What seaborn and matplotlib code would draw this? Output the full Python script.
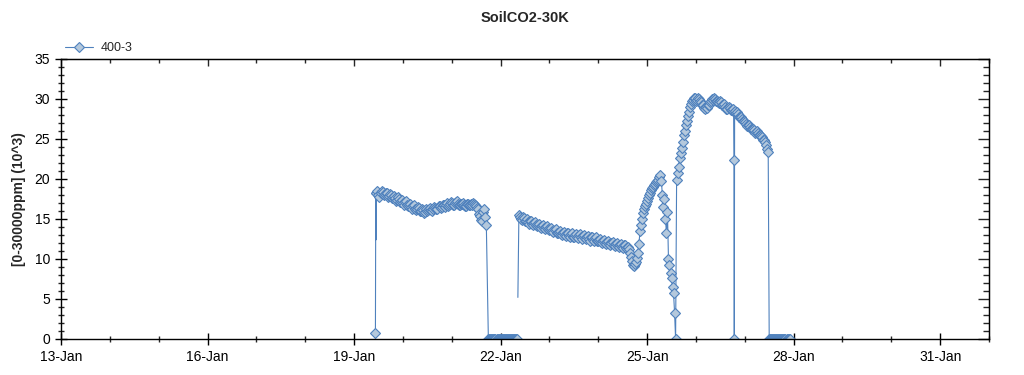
import seaborn as sns
import matplotlib.pyplot as plt
import matplotlib.dates as mdates
from matplotlib.ticker import MultipleLocator
import pandas as pd

# ---------- data (400-3, values in 10^3 ppm) ----------
# first run on 19-Jan
glitch_start = "2014-01-19 10:30"
glitch_vals = [0.8, 18.3, 12.4]

run1_start = "2014-01-19 11:00"
run1_vals = [18.3, 18.5, 18.0, 17.8, 18.2, 18.5, 18.4, 18.0, 18.1, 18.3,
             18.2, 17.8, 17.9, 18.1, 18.0, 17.6, 17.7, 17.9, 17.6, 17.3,
             17.4, 17.7, 17.5, 17.1, 17.2, 17.4, 17.0, 16.8, 17.1, 17.2,
             16.8, 16.6, 16.7, 16.9, 16.5, 16.3, 16.6, 16.8, 16.3, 16.1,
             16.2, 16.5, 16.4, 16.0, 16.0, 16.3, 16.1, 15.8, 15.9, 16.2,
             16.0, 16.1, 16.2, 16.4, 16.1, 16.0, 16.3, 16.5, 16.4, 16.2,
             16.3, 16.6, 16.6, 16.4, 16.5, 16.8, 16.7, 16.5, 16.8, 17.0,
             16.6, 16.7, 16.9, 17.1, 17.0, 16.8, 16.8, 17.0, 17.1, 17.2,
             16.9, 16.7, 16.7, 16.9, 16.9, 17.0, 16.8, 16.6, 16.6, 16.9,
             16.9, 16.7, 16.7, 16.9, 16.8, 17.0, 16.9, 16.7, 16.6, 16.4,
             16.2, 15.6, 15.4, 14.9, 14.8, 15.9, 16.3, 15.2, 14.2]

zero1_start = "2014-01-21 18:00"
zero1_vals = [0.0] * 29

# second run from 22-Jan
run2_start = "2014-01-22 08:30"
run2_vals = [5.2, 15.5, 15.3, 15.0, 14.9, 15.2, 15.1, 14.7, 14.8, 15.0,
             14.6, 14.4, 14.7, 14.8, 14.4, 14.3, 14.5, 14.6, 14.2, 14.1,
             14.3, 14.4, 14.0, 13.9, 14.1, 14.2, 13.9, 13.7, 14.0, 14.1,
             13.7, 13.6, 13.8, 13.9, 13.5, 13.4, 13.6, 13.7, 13.3, 13.2,
             13.4, 13.5, 13.1, 13.0, 13.3, 13.4, 13.0, 12.9, 13.2, 13.3,
             12.9, 12.8, 13.1, 13.2, 12.8, 12.7, 13.0, 13.1, 12.8, 12.6,
             13.0, 13.1, 12.7, 12.5, 12.9, 13.0, 12.6, 12.5, 12.8, 12.9,
             12.5, 12.3, 12.7, 12.8, 12.4, 12.2, 12.6, 12.7, 12.3, 12.2,
             12.4, 12.5, 12.1, 12.0, 12.3, 12.4, 12.0, 11.9, 12.1, 12.2,
             11.9, 11.7, 12.0, 12.1, 11.7, 11.6, 11.9, 12.0, 11.6, 11.5,
             11.8, 11.9, 11.5, 11.4, 11.7, 11.8, 11.4, 11.3, 11.5, 11.2,
             10.8, 10.2, 9.8, 9.3, 9.1, 9.4, 9.6, 10.1, 10.8, 11.9,
             13.5, 14.3, 15.0, 15.7, 16.2, 16.6, 16.9, 17.3, 17.6, 18.0,
             18.3, 18.6, 18.9, 19.0, 19.2, 19.4, 19.6, 19.8, 19.9, 20.2, 20.5]

drop_start = "2014-01-25 07:00"
drop_vals = [19.8, 18.0, 16.5, 17.5, 15.0, 13.3, 15.9, 10.0, 9.2, 8.3, 7.6, 6.5,
             5.7, 3.3, 0.0]

rise_start = "2014-01-25 14:30"
rise_vals = [19.9, 20.8, 21.5, 22.6, 23.2, 23.9, 24.6, 25.5, 26.0, 26.8,
             27.2, 27.9, 28.4, 29.0, 29.4, 29.8, 29.9, 30.1, 30.1, 29.8,
             29.9, 30.1, 30.0, 29.7, 29.6, 29.3, 29.2, 28.9, 28.7, 29.0,
             28.9, 29.2, 29.3, 29.6, 29.7, 30.0, 29.9, 30.1, 30.0, 29.7,
             29.8, 29.6, 29.5, 29.7, 29.6, 29.3, 29.2, 29.4, 29.0, 28.8,
             28.8, 29.0, 28.9, 28.6, 28.6, 28.7, 28.4]

spike_start = "2014-01-26 18:40"
spike_vals = [22.4, 0.0, 28.5]

tail_start = "2014-01-26 19:30"
tail_vals = [28.3, 28.4, 28.1, 27.8, 27.8, 27.7, 27.5, 27.2, 27.3, 27.1,
             26.9, 26.6, 26.8, 26.7, 26.5, 26.2, 26.3, 26.2, 26.1, 25.8,
             25.9, 26.0, 25.8, 25.5, 25.5, 25.4, 25.2, 24.9, 24.9, 24.6,
             24.2, 23.8, 23.4]

zero2_start = "2014-01-27 12:00"
zero2_vals = [0.0] * 21


def block(start, freq, values):
    t = pd.date_range(start, periods=len(values), freq=freq)
    return pd.DataFrame({"time": t, "value": values})


piece1 = pd.concat([block(glitch_start, "10min", glitch_vals),
                    block(run1_start, "30min", run1_vals),
                    block(zero1_start, "30min", zero1_vals)], ignore_index=True)
piece2 = pd.concat([block(run2_start, "30min", run2_vals),
                    block(drop_start, "30min", drop_vals),
                    block(rise_start, "30min", rise_vals),
                    block(spike_start, "10min", spike_vals),
                    block(tail_start, "30min", tail_vals),
                    block(zero2_start, "30min", zero2_vals)], ignore_index=True)

# the 12.4 glitch and the 5.2 start point show as line only, no marker
skip1 = [2]
skip2 = [0]

# ---------- plot ----------
sns.set_style("ticks")
plt.rcParams['font.family'] = ['Liberation Sans', 'DejaVu Sans']

line_col = "#4F81BD"
face_col = "#B4C8DC"

fig = plt.figure(figsize=(10.24, 3.75), dpi=100)
ax = fig.add_axes([61 / 1024, 1 - 339 / 375, 928 / 1024, 280 / 375])

for piece, skip in [(piece1, skip1), (piece2, skip2)]:
    every = [i for i in range(len(piece)) if i not in skip]
    sns.lineplot(data=piece, x="time", y="value", ax=ax, sort=False, estimator=None,
                 color=line_col, linewidth=0.8, marker="D", markersize=4.6,
                 markerfacecolor=face_col, markeredgecolor=line_col,
                 markeredgewidth=0.8, markevery=every)

ax.set_xlim(pd.Timestamp("2014-01-13"), pd.Timestamp("2014-02-01"))
ax.set_ylim(0, 35)

ax.xaxis.set_major_locator(mdates.DayLocator(bymonthday=[13, 16, 19, 22, 25, 28, 31]))
ax.xaxis.set_minor_locator(mdates.DayLocator())
ax.xaxis.set_major_formatter(mdates.DateFormatter("%d-%b"))
ax.yaxis.set_major_locator(MultipleLocator(5))
ax.yaxis.set_minor_locator(MultipleLocator(1))

ax.tick_params(which="major", direction="inout", length=8, width=1, labelsize=10,
               colors="black", pad=4)
ax.tick_params(which="minor", direction="inout", length=4, width=1)

# top and right ticks point inwards only
top = ax.secondary_xaxis("top")
top.xaxis.set_major_locator(mdates.DayLocator(bymonthday=[13, 16, 19, 22, 25, 28, 31]))
top.xaxis.set_minor_locator(mdates.DayLocator())
top.tick_params(which="major", direction="in", length=5, width=1, labelbottom=False,
                labeltop=False)
top.tick_params(which="minor", direction="in", length=3, width=1)
right = ax.secondary_yaxis("right")
right.yaxis.set_major_locator(MultipleLocator(5))
right.yaxis.set_minor_locator(MultipleLocator(1))
right.tick_params(which="major", direction="in", length=8, width=1, labelright=False)
right.tick_params(which="minor", direction="in", length=4, width=1)

for s in ax.spines.values():
    s.set_linewidth(1)
    s.set_color("black")

ax.set_xlabel("")
ax.set_ylabel("[0-30000ppm] (10^3)", fontsize=10, fontweight="bold", labelpad=6)
fig.text(525 / 1024, 1 - 18 / 375, "SoilCO2-30K", ha="center", va="center",
         fontsize=10.5, fontweight="bold")

ax.legend(handles=[ax.lines[0]], labels=["400-3"], loc="lower left",
          bbox_to_anchor=(-0.002, 0.995), frameon=False, fontsize=9,
          handlelength=2.2, handletextpad=0.6, borderaxespad=0.1)

fig.savefig("out.png", dpi=100)
